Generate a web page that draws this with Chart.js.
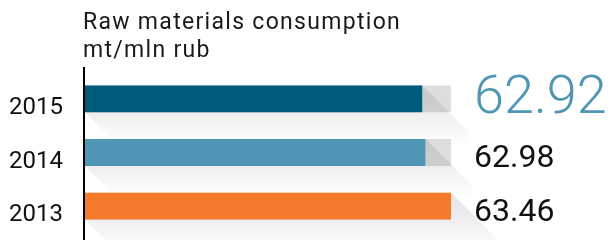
<!DOCTYPE html>
<html lang="en">
<head>
  <meta charset="UTF-8">
  <title>Raw materials consumption</title>
  <script src="https://cdn.jsdelivr.net/npm/chart.js"></script>
  <style>
    body { margin: 0; background: #fff; }
    #wrap { width: 613px; height: 240px; }
  </style>
</head>
<body>
  <div id="wrap"><canvas id="myChart" width="613" height="240"></canvas></div>

  <script>
    const titleLines = ["Raw materials consumption", "mt/mln rub"];
    const years = ["2015", "2014", "2013"];
    const values = [62.92, 62.98, 63.46];
    const trackValues = [63.46, 63.46, 63.46];
    const valueLabels = ["62.92", "62.98", "63.46"];
    const barColors = ["#005a7b", "#4f96b5", "#f47b2c"];

    const FONT = "Roboto, 'Noto Sans', sans-serif";

    // title, axis line, year labels, shadows and value labels
    const decor = {
      id: "decor",
      afterDatasetDraw(chart, args) {
        if (args.index !== 0) return;
        const ctx = chart.ctx;
        const left = chart.chartArea.left;
        const L = 46;
        chart.getDatasetMeta(1).data.forEach(el => {
          const top = el.y - el.height / 2, bottom = el.y + el.height / 2;
          const g = ctx.createLinearGradient(0, top, 0, bottom + L * 0.7);
          g.addColorStop(0, "rgba(0,0,0,0.10)");
          g.addColorStop(0.4, "rgba(0,0,0,0.07)");
          g.addColorStop(1, "rgba(0,0,0,0)");
          ctx.save();
          ctx.beginPath();
          ctx.moveTo(left, top);
          ctx.lineTo(el.x, top);
          ctx.lineTo(el.x + L, top + L);
          ctx.lineTo(el.x + L, bottom + L);
          ctx.lineTo(left + L, bottom + L);
          ctx.lineTo(left, bottom);
          ctx.closePath();
          ctx.fillStyle = g;
          ctx.fill();
          ctx.restore();
        });
      },
      afterDraw(chart) {
        const ctx = chart.ctx;
        const area = chart.chartArea;
        const yScale = chart.scales.y;
        ctx.save();
        ctx.fillStyle = "#1a1a1a";
        ctx.font = "23px " + FONT;
        ctx.letterSpacing = "1.3px";
        ctx.textAlign = "left";
        ctx.textBaseline = "alphabetic";
        ctx.fillText(titleLines[0], area.left - 2, 29);
        ctx.fillText(titleLines[1], area.left - 2, 57);
        ctx.letterSpacing = "0px";

        ctx.fillStyle = "#000";
        ctx.fillRect(area.left - 2, 67, 2, 240 - 67);

        ctx.fillStyle = "#111";
        ctx.font = "24px " + FONT;
        ctx.textAlign = "right";
        ctx.textBaseline = "alphabetic";
        years.forEach((yr, i) => {
          ctx.fillText(yr, 63, yScale.getPixelForTick(i) + 15);
        });

        ctx.textAlign = "left";
        chart.getDatasetMeta(1).data.forEach((el, i) => {
          const bottom = el.y + el.height / 2;
          if (i === 0) {
            ctx.font = "300 54px " + FONT;
            ctx.fillStyle = "#4f96b5";
          } else {
            ctx.font = "32px " + FONT;
            ctx.fillStyle = "#111";
          }
          ctx.fillText(valueLabels[i], 474, bottom + 1);
        });
        ctx.restore();
      }
    };

    new Chart(document.getElementById("myChart"), {
      type: "bar",
      data: {
        labels: years,
        datasets: [
          {
            data: trackValues,
            backgroundColor: "#dddddd",
            grouped: false,
            order: 2,
            barPercentage: 0.5,
            categoryPercentage: 1
          },
          {
            data: values,
            backgroundColor: barColors,
            grouped: false,
            order: 1,
            barPercentage: 0.5,
            categoryPercentage: 1
          }
        ]
      },
      options: {
        indexAxis: "y",
        responsive: false,
        animation: false,
        layout: { padding: { top: 72, bottom: 7, right: 162, left: 0 } },
        plugins: { legend: { display: false }, tooltip: { enabled: false } },
        scales: {
          x: { display: false, min: 56.6, max: 63.46 },
          y: {
            grid: { display: false, drawTicks: false },
            border: { display: false },
            afterFit(scale) { scale.width = 85; },
            ticks: { display: false }
          }
        }
      },
      plugins: [decor]
    });
  </script>
</body>
</html>
